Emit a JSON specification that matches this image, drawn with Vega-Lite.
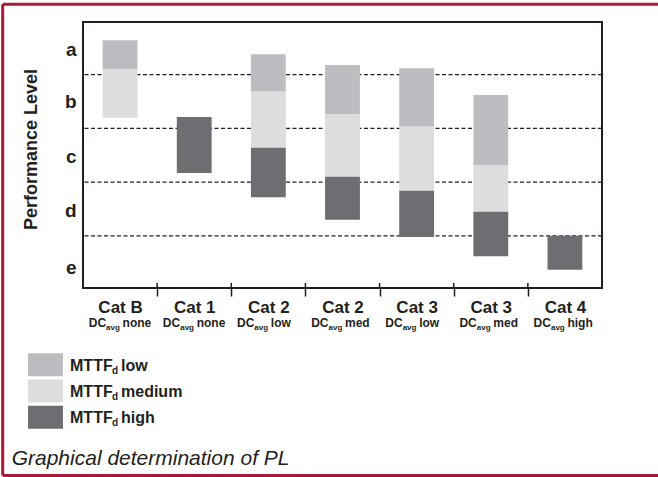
{
  "$schema": "https://vega.github.io/schema/vega-lite/v6.json",
  "width": 519,
  "height": 266,
  "autosize": {"type": "none"},
  "padding": {"left": 83, "top": 22, "right": 56, "bottom": 189},
  "background": "white",
  "config": {
    "view": {"stroke": "#231f20", "strokeWidth": 2},
    "font": "Liberation Sans"
  },
  "datasets": {
    "bars": [
      {"id": "Cat B|none", "mttf": "low", "lo": 4.10, "hi": 4.64},
      {"id": "Cat B|none", "mttf": "medium", "lo": 3.20, "hi": 4.10},
      {"id": "Cat 1|none", "mttf": "high", "lo": 2.17, "hi": 3.21},
      {"id": "Cat 2|low", "mttf": "low", "lo": 3.68, "hi": 4.38},
      {"id": "Cat 2|low", "mttf": "medium", "lo": 2.64, "hi": 3.68},
      {"id": "Cat 2|low", "mttf": "high", "lo": 1.72, "hi": 2.64},
      {"id": "Cat 2|med", "mttf": "low", "lo": 3.27, "hi": 4.18},
      {"id": "Cat 2|med", "mttf": "medium", "lo": 2.10, "hi": 3.27},
      {"id": "Cat 2|med", "mttf": "high", "lo": 1.30, "hi": 2.10},
      {"id": "Cat 3|low", "mttf": "low", "lo": 3.03, "hi": 4.12},
      {"id": "Cat 3|low", "mttf": "medium", "lo": 1.84, "hi": 3.03},
      {"id": "Cat 3|low", "mttf": "high", "lo": 0.98, "hi": 1.84},
      {"id": "Cat 3|med", "mttf": "low", "lo": 2.32, "hi": 3.62},
      {"id": "Cat 3|med", "mttf": "medium", "lo": 1.45, "hi": 2.32},
      {"id": "Cat 3|med", "mttf": "high", "lo": 0.62, "hi": 1.45},
      {"id": "Cat 4|high", "mttf": "high", "lo": 0.37, "hi": 1.00}
    ],
    "cats": [
      {"id": "Cat B|none", "dc": "none"},
      {"id": "Cat 1|none", "dc": "none"},
      {"id": "Cat 2|low", "dc": "low"},
      {"id": "Cat 2|med", "dc": "med"},
      {"id": "Cat 3|low", "dc": "low"},
      {"id": "Cat 3|med", "dc": "med"},
      {"id": "Cat 4|high", "dc": "high"}
    ],
    "bounds": [{"b": 1}, {"b": 2}, {"b": 3}, {"b": 4}],
    "legend": [{"mttf": "low"}, {"mttf": "medium"}, {"mttf": "high"}],
    "caption": [{"caption": "Graphical determination of PL"}]
  },
  "resolve": {"scale": {"x": "independent", "y": "independent"}},
  "layer": [
    {
      "layer": [
        {
          "data": {"name": "bounds"},
          "mark": {"type": "rule", "strokeDash": [4, 2.5], "strokeWidth": 1.4, "color": "#231f20"},
          "encoding": {
            "y": {"field": "b", "type": "quantitative"}
          }
        },
        {
          "data": {"name": "bars"},
          "mark": {"type": "bar", "width": {"band": 0.47}},
          "encoding": {
            "x": {
              "field": "id", "type": "nominal", "sort": null,
              "scale": {
                "domain": ["Cat B|none", "Cat 1|none", "Cat 2|low", "Cat 2|med", "Cat 3|low", "Cat 3|med", "Cat 4|high"],
                "paddingInner": 0, "paddingOuter": 0
              },
              "axis": {
                "title": null, "domain": false, "grid": false,
                "labelExpr": "isString(datum.value) ? split(datum.value, '|')[0] : ''",
                "labelAngle": 0,
                "labelFontSize": 17, "labelFontWeight": "bold", "labelColor": "#231f20",
                "labelBaseline": "alphabetic", "labelPadding": 16,
                "tickSize": 8, "tickWidth": 1.5, "tickColor": "#231f20", "tickBand": "extent",
                "tickOpacity": {"condition": {"test": "!isString(datum.value) || datum.value == 'Cat 4|high'", "value": 0}, "value": 1}
              }
            },
            "y": {
              "field": "lo", "type": "quantitative",
              "scale": {"domain": [0.03, 4.98], "nice": false, "zero": false},
              "axis": {
                "title": "Performance Level", "titleFontSize": 18, "titleFontWeight": "bold",
                "titleColor": "#231f20", "titlePadding": 24, "titleY": 127,
                "values": [0.42, 1.48, 2.47, 3.5, 4.46],
                "labelExpr": "['e','d','c','b','a'][floor(datum.value)]",
                "labelFontSize": 19, "labelFontWeight": "bold", "labelColor": "#231f20",
                "labelPadding": 7, "ticks": false, "domain": false, "grid": false
              }
            },
            "y2": {"field": "hi"},
            "color": {
              "field": "mttf", "type": "nominal",
              "scale": {"domain": ["low", "medium", "high"], "range": ["#bcbdc0", "#dcdddf", "#6d6e71"]},
              "legend": null
            }
          }
        },
        {
          "data": {"name": "cats"},
          "transform": [{"filter": "datum.id != 'Cat B|none'"}],
          "mark": {"type": "rule", "strokeWidth": 1.5, "color": "#231f20"},
          "encoding": {
            "x": {"field": "id", "type": "nominal", "bandPosition": 0},
            "y": {"datum": 0.125},
            "y2": {"datum": 0.03}
          }
        },
        {
          "data": {"name": "cats"},
          "mark": {"type": "text", "text": "DC", "align": "right", "dx": -14, "baseline": "alphabetic",
                   "fontSize": 12, "fontWeight": "bold", "color": "#231f20"},
          "encoding": {
            "x": {"field": "id", "type": "nominal"},
            "y": {"datum": -0.696}
          }
        },
        {
          "data": {"name": "cats"},
          "mark": {"type": "text", "text": "avg", "align": "left", "dx": -14, "dy": 3, "baseline": "alphabetic",
                   "fontSize": 8, "fontWeight": "bold", "color": "#231f20"},
          "encoding": {
            "x": {"field": "id", "type": "nominal"},
            "y": {"datum": -0.696}
          }
        },
        {
          "data": {"name": "cats"},
          "mark": {"type": "text", "align": "left", "dx": 2.5, "baseline": "alphabetic",
                   "fontSize": 12, "fontWeight": "bold", "color": "#231f20"},
          "encoding": {
            "x": {"field": "id", "type": "nominal"},
            "y": {"datum": -0.696},
            "text": {"field": "dc"}
          }
        }
      ]
    },
    {
      "data": {"name": "legend"},
      "layer": [
        {
          "mark": {"type": "rect"},
          "encoding": {
            "x": {"datum": -0.742, "type": "quantitative", "scale": {"domain": [0, 7], "nice": false, "zero": false}, "axis": null},
            "x2": {"datum": -0.27},
            "y": {"field": "mttf", "type": "nominal",
                  "scale": {"domain": ["low", "medium", "high"], "range": [331.3, 406.7], "paddingInner": 0.12, "paddingOuter": 0},
                  "axis": null},
            "color": {"field": "mttf", "type": "nominal", "legend": null}
          }
        },
        {
          "mark": {"type": "text", "text": "MTTF", "align": "left", "baseline": "middle", "dy": 1,
                   "fontSize": 16, "fontWeight": "bold", "color": "#231f20"},
          "encoding": {
            "x": {"datum": -0.175, "type": "quantitative"},
            "y": {"field": "mttf", "type": "nominal"}
          }
        },
        {
          "mark": {"type": "text", "text": "d", "align": "left", "baseline": "middle", "dx": 42, "dy": 6,
                   "fontSize": 10, "fontWeight": "bold", "color": "#231f20"},
          "encoding": {
            "x": {"datum": -0.175, "type": "quantitative"},
            "y": {"field": "mttf", "type": "nominal"}
          }
        },
        {
          "mark": {"type": "text", "align": "left", "baseline": "middle", "dx": 51, "dy": 1,
                   "fontSize": 16, "fontWeight": "bold", "color": "#231f20"},
          "encoding": {
            "x": {"datum": -0.175, "type": "quantitative"},
            "y": {"field": "mttf", "type": "nominal"},
            "text": {"field": "mttf"}
          }
        }
      ]
    },
    {
      "data": {"name": "caption"},
      "layer": [
        {
          "mark": {"type": "rule", "stroke": "#a8193a", "strokeWidth": 3},
          "encoding": {
            "x": {"datum": -1.083, "type": "quantitative", "scale": {"domain": [0, 7], "nice": false, "zero": false}, "axis": null},
            "x2": {"datum": 14},
            "y": {"datum": 5.311, "type": "quantitative", "scale": {"domain": [0.03, 4.98], "nice": false, "zero": false}, "axis": null}
          }
        },
        {
          "mark": {"type": "rule", "stroke": "#a8193a", "strokeWidth": 3},
          "encoding": {
            "x": {"datum": -1.083, "type": "quantitative"},
            "x2": {"datum": 14},
            "y": {"datum": -3.459, "type": "quantitative"}
          }
        },
        {
          "mark": {"type": "rule", "stroke": "#a8193a", "strokeWidth": 3},
          "encoding": {
            "x": {"datum": -1.083, "type": "quantitative"},
            "y": {"datum": 5.311, "type": "quantitative"},
            "y2": {"datum": -3.459}
          }
        },
        {
          "mark": {"type": "text", "align": "left", "baseline": "alphabetic", "fontSize": 21,
                   "fontStyle": "italic", "color": "#231f20"},
          "encoding": {
            "x": {"datum": -0.962, "type": "quantitative"},
            "y": {"datum": -3.264, "type": "quantitative"},
            "text": {"field": "caption"}
          }
        }
      ]
    }
  ]
}
